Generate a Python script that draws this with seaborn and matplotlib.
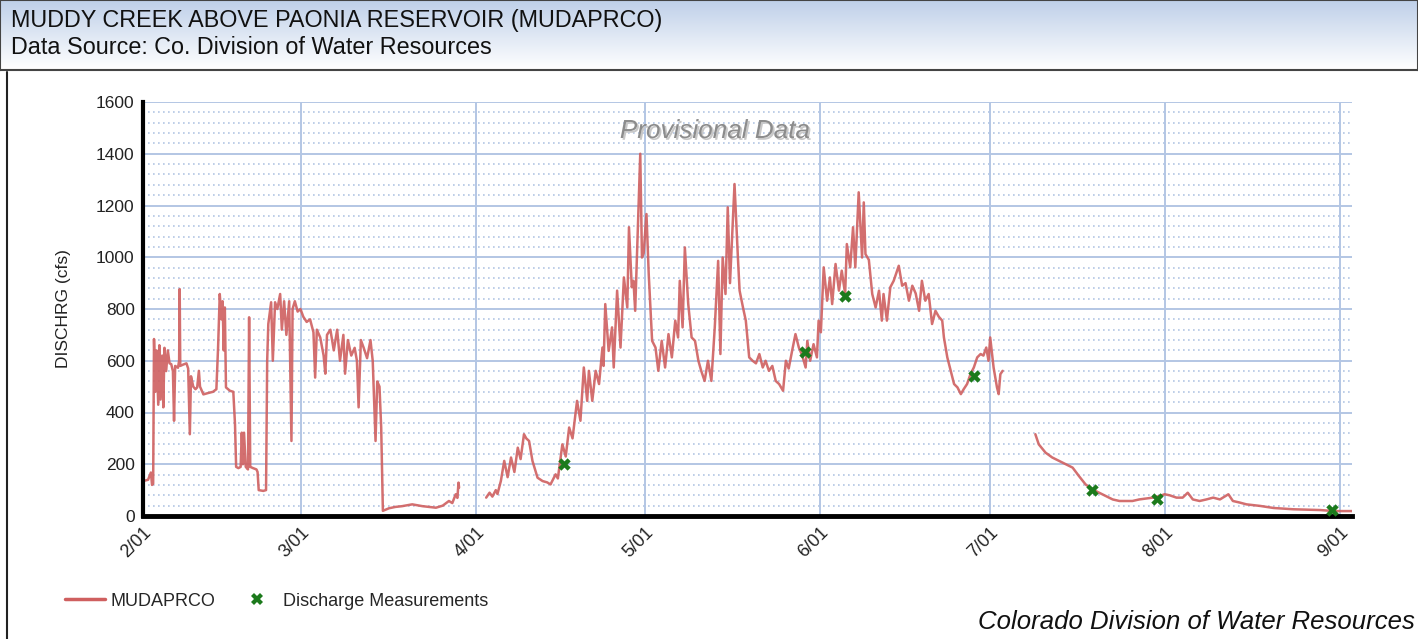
import numpy as np
import pandas as pd
import matplotlib
matplotlib.use("Agg")
import matplotlib.pyplot as plt
import matplotlib.dates as mdates
import matplotlib.patheffects as pe
from matplotlib.colors import LinearSegmentedColormap
from matplotlib.lines import Line2D
from matplotlib.ticker import MultipleLocator
import seaborn as sns

# Data: days since Feb 1 and discharge (cfs). NaN = data gap
start = pd.Timestamp("2019-02-01")

flow_days = [
    0.0, 0.9, 1.4, 1.6, 1.8, 1.95, 2.2, 2.4, 2.7, 2.9, 3.1, 3.4, 3.6, 3.8, 4.1, 4.4, 4.7, 5.0,
    5.3, 5.5, 5.7, 6.2, 6.4, 6.5, 6.6, 7.1, 7.7, 8.0, 8.3, 8.5, 8.9, 9.3, 9.6, 9.9, 10.1, 10.7,
    11.5, 12.4, 13.0, 13.3, 13.6, 13.9, 14.1, 14.3, 14.5, 14.7, 15.4, 16.0, 16.3, 16.5, 16.9,
    17.3, 17.5, 17.7, 17.9, 18.2, 18.6, 18.8, 19.0, 19.5, 20.1, 20.3, 20.5, 21.3, 21.8, 22.0,
    22.2, 22.7, 23.0, 23.4, 23.8, 24.3, 24.6, 25.0, 25.4, 25.9, 26.3, 26.5, 26.9, 27.4, 27.9,
    28.4, 29.0, 29.6, 30.2, 30.5, 30.8, 31.4, 32.0, 32.3, 32.6, 33.2, 33.8, 34.4, 34.9, 35.5,
    35.8, 36.3, 36.9, 37.5, 37.9, 38.2, 38.6, 39.1, 39.7, 40.3, 40.7, 41.2, 41.5, 41.9, 42.2,
    42.5, 43.6, 44.7, 45.9, 47.7, 49.5, 51.9, 53.1, 54.2, 54.8, 55.4, 55.7, 55.9, 56.0,
    58.0,
    60.8, 61.4, 61.9, 62.5, 62.8, 63.4, 64.0, 64.6, 65.2, 65.8, 66.4, 66.9, 67.5, 67.9, 68.4,
    69.0, 69.9, 70.8, 71.6, 72.2, 73.1, 73.5, 74.0, 74.3, 74.9, 75.5, 76.1, 76.9, 77.5, 78.1,
    78.7, 79.0, 79.6, 80.2, 80.8, 81.4, 81.6, 81.9, 82.5, 83.1, 83.4, 84.0, 84.6, 85.2, 85.8,
    86.1, 86.6, 86.9, 87.2, 87.8, 88.1, 88.4, 88.7, 89.2, 89.6, 90.2, 90.8, 91.3, 91.9, 92.5,
    93.1, 93.7, 94.3, 94.8, 95.1, 95.6, 96.0, 96.6, 97.2, 97.8, 98.4, 98.9, 99.5, 100.1, 100.7,
    101.3, 101.9, 102.3, 102.7, 103.2, 103.6, 104.0, 104.8, 105.4, 105.7, 106.3, 106.8, 107.4,
    108.0, 108.6, 109.2, 109.8, 110.3, 110.9, 111.5, 112.1, 112.7, 113.4, 113.9, 114.4, 115.0,
    115.6, 116.2, 116.8, 117.4, 117.7, 118.2, 118.8, 119.4, 119.7, 120.1, 120.6, 121.2, 121.7,
    122.1, 122.7, 123.3, 123.8, 124.4, 124.7, 125.3, 125.8, 126.2, 126.8, 127.4, 127.7, 128.0,
    128.6, 129.2, 129.8, 130.4, 130.9, 131.2, 131.8, 132.4, 133.0, 133.9, 134.5, 135.1, 135.7,
    136.3, 136.9, 137.5, 138.0, 138.6, 139.2, 139.8, 140.4, 141.0, 141.6, 141.9, 142.5, 143.1,
    143.7, 144.3, 144.9, 145.4, 146.0, 146.6, 147.2, 147.8, 148.4, 148.9, 149.4, 149.8, 150.1,
    150.7, 151.3, 151.6, 151.9, 152.3,
    155.0,
    158.1, 158.7, 159.9, 161.1, 162.3, 163.5, 164.7, 165.8, 167.0, 168.2, 169.4, 170.6, 171.8,
    173.0, 175.3, 176.5, 178.9, 180.1, 181.0, 181.9, 183.1, 184.2, 185.1, 186.0, 187.2, 188.4,
    189.6, 190.8, 192.3, 193.1, 194.3, 195.5, 197.9, 200.3, 203.8, 208.6, 211.0, 214.2,
]

flow_cfs = [
    135, 140, 168, 120, 125, 684, 480, 640, 430, 660, 450, 620, 420, 650, 560, 640, 590, 587,
    560, 368, 580, 573, 600, 877, 580, 585, 590, 570, 316, 540, 500, 490, 497, 561, 500, 470,
    475, 480, 490, 650, 858, 760, 830, 640, 806, 497, 484, 480, 355, 190, 185,
    190, 322, 200, 322, 190, 180, 768, 190, 185, 180, 170, 100, 97, 100, 600,
    742, 826, 600, 826, 800, 858, 720, 830, 700, 830, 290, 800, 830, 790, 800,
    770, 750, 760, 710, 535, 720, 690, 620, 550, 700, 720, 640, 720, 600, 700,
    550, 680, 620, 650, 600, 420, 680, 650, 610, 680, 600, 290, 520, 500, 342,
    20, 30, 35, 38, 45, 38, 32, 40, 58, 50, 84, 70, 129, 110,
    np.nan,
    71, 90, 75, 100, 85, 135, 213, 150, 226, 170, 264, 220, 316, 300, 290,
    213, 148, 135, 130, 122, 161, 145, 226, 277, 230, 342, 300, 445, 368, 574,
    445, 561, 445, 561, 510, 651, 580, 819, 638, 729, 574, 871, 651, 922, 806,
    1116, 884, 909, 793, 1200, 1400, 999, 1016, 1167, 935, 677, 651, 561, 677, 574,
    703, 613, 755, 690, 909, 729, 1038, 819, 690, 677, 600, 561, 522, 600, 522,
    729, 986, 626, 999, 858, 1193, 900, 1283, 999, 871, 806, 755, 613,
    600, 590, 626, 574, 600, 561, 580, 522, 510, 484, 600, 570, 638,
    703, 651, 620, 574, 677, 600, 664, 613, 755, 710, 961, 832, 922,
    819, 974, 871, 948, 858, 1051, 961, 1116, 961, 1251, 999, 1212, 1012,
    990, 858, 806, 871, 755, 858, 755, 884, 909, 967, 890, 900, 832,
    890, 860, 793, 909, 832, 858, 742, 793, 770, 755, 690, 613, 561,
    510, 497, 471, 490, 510, 548, 574, 613, 626, 620, 651, 600, 690,
    574, 497, 471, 548, 561,
    np.nan,
    316, 277, 245, 226, 213, 200, 187, 155, 122, 103, 90, 77, 64,
    58, 58, 64, 71, 77, 84, 80, 71, 71, 90, 64, 58, 64,
    71, 64, 84, 58, 52, 45, 39, 31, 26, 23, 19, 19,
]

# field discharge measurements
meas_days = [74.6, 117.2, 124.3, 147.2, 168.2, 179.6, 210.7]
meas_cfs = [200, 632, 851, 542, 99, 64, 22]

month_ticks = pd.date_range("2019-02-01", "2019-09-01", freq="MS")

df = pd.DataFrame({"day": flow_days, "cfs": flow_cfs})
df["date"] = start + pd.to_timedelta(df["day"], unit="D")
df["seg"] = df["cfs"].isna().cumsum()
df = df.dropna()

meas = pd.DataFrame({"date": start + pd.to_timedelta(meas_days, unit="D"), "cfs": meas_cfs})

sns.set_style("white")
plt.rcParams["font.family"] = ["Liberation Sans", "DejaVu Sans"]

W, H = 1418, 639
fig = plt.figure(figsize=(W / 100, H / 100), dpi=100)

# header band with gradient
hax = fig.add_axes([0, 1 - 70 / H, 1, 70 / H])
grad = LinearSegmentedColormap.from_list("hdr", ["#bfd0e9", "#ffffff"])
hax.imshow(np.linspace(0, 1, 64).reshape(-1, 1), cmap=grad, aspect="auto", extent=[0, 1, 0, 1])
hax.set_xticks([])
hax.set_yticks([])
for s in hax.spines.values():
    s.set_color("#444444")
    s.set_linewidth(1.5)
fig.text(11 / W, 1 - 20 / H, "MUDDY CREEK ABOVE PAONIA RESERVOIR (MUDAPRCO)",
         fontsize=16.8, va="center", color="#111111")
fig.text(11 / W, 1 - 47 / H, "Data Source: Co. Division of Water Resources",
         fontsize=16.8, va="center", color="#111111")
fig.add_artist(Line2D([7 / W, 7 / W], [0, 1 - 72 / H], transform=fig.transFigure,
                      color="#222222", lw=1.5))

ax = fig.add_axes([143 / W, 1 - 516 / H, (1352 - 143) / W, (516 - 102) / H])

sns.lineplot(data=df, x="date", y="cfs", units="seg", estimator=None, ax=ax,
             color="#cf5f5f", lw=1.8, alpha=0.9, legend=False)
sns.scatterplot(data=meas, x="date", y="cfs", ax=ax, marker="X", s=80,
                color="#1c7a1c", linewidth=0, zorder=5, legend=False)

ax.set_xlim(start, start + pd.Timedelta(days=214.2))
ax.set_ylim(0, 1600)
ax.yaxis.set_major_locator(MultipleLocator(200))
ax.yaxis.set_minor_locator(MultipleLocator(40))
ax.set_xticks(month_ticks)
ax.xaxis.set_major_formatter(mdates.DateFormatter("%-m/%d"))
ax.xaxis.set_minor_locator(mdates.MonthLocator(bymonthday=16))

gc = "#b3c6e4"
ax.grid(which="major", axis="both", color=gc, lw=1.4)
ax.grid(which="minor", axis="y", color=gc, lw=1.2, ls=(0, (1, 2)))
ax.set_axisbelow(True)

for side in ["top", "right"]:
    ax.spines[side].set_visible(False)
ax.spines["left"].set_linewidth(3)
ax.spines["bottom"].set_linewidth(3.5)
ax.spines["left"].set_color("black")
ax.spines["bottom"].set_color("black")

ax.tick_params(axis="y", which="both", length=0, pad=6, labelsize=12.5, labelcolor="#222222")
ax.tick_params(axis="x", which="major", length=0, pad=6, labelsize=13, labelcolor="#222222")
ax.tick_params(axis="x", which="minor", direction="in", length=4, width=1.5, color="black")
for lbl in ax.get_xticklabels():
    lbl.set_rotation(45)
    lbl.set_ha("right")
    lbl.set_va("top")
    lbl.set_rotation_mode("anchor")

ax.set_xlabel("")
ax.set_ylabel("DISCHRG (cfs)", fontsize=12.5, color="#222222", labelpad=18)

ax.text(0.473, 0.93, "Provisional Data", transform=ax.transAxes, ha="center", va="center",
        fontsize=18.8, style="italic", color="#8c8c8c",
        path_effects=[pe.withSimplePatchShadow(offset=(1.3, -1.3), shadow_rgbFace="#c8c8c8",
                                               alpha=1.0)])

# legend: two pieces so the gaps match the reference
leg_y = 1 - 601 / H
fig.legend([Line2D([], [], color="#cf5f5f", lw=2.5)], ["MUDAPRCO"], loc="center left",
           bbox_to_anchor=(49 / W, leg_y), frameon=False, fontsize=13,
           handlelength=2.2, handletextpad=0.3)
fig.legend([Line2D([], [], color="#1c7a1c", marker="X", ls="none", markersize=8,
                   markeredgewidth=0)], ["Discharge Measurements"], loc="center left",
           bbox_to_anchor=(221 / W, leg_y), frameon=False, fontsize=13,
           handlelength=2.2, handletextpad=0.35)

fig.text(1415 / W, 1 - 622 / H, "Colorado Division of Water Resources", fontsize=18.5,
         style="italic", ha="right", va="center", color="#111111")

fig.savefig("out.png", dpi=100)
